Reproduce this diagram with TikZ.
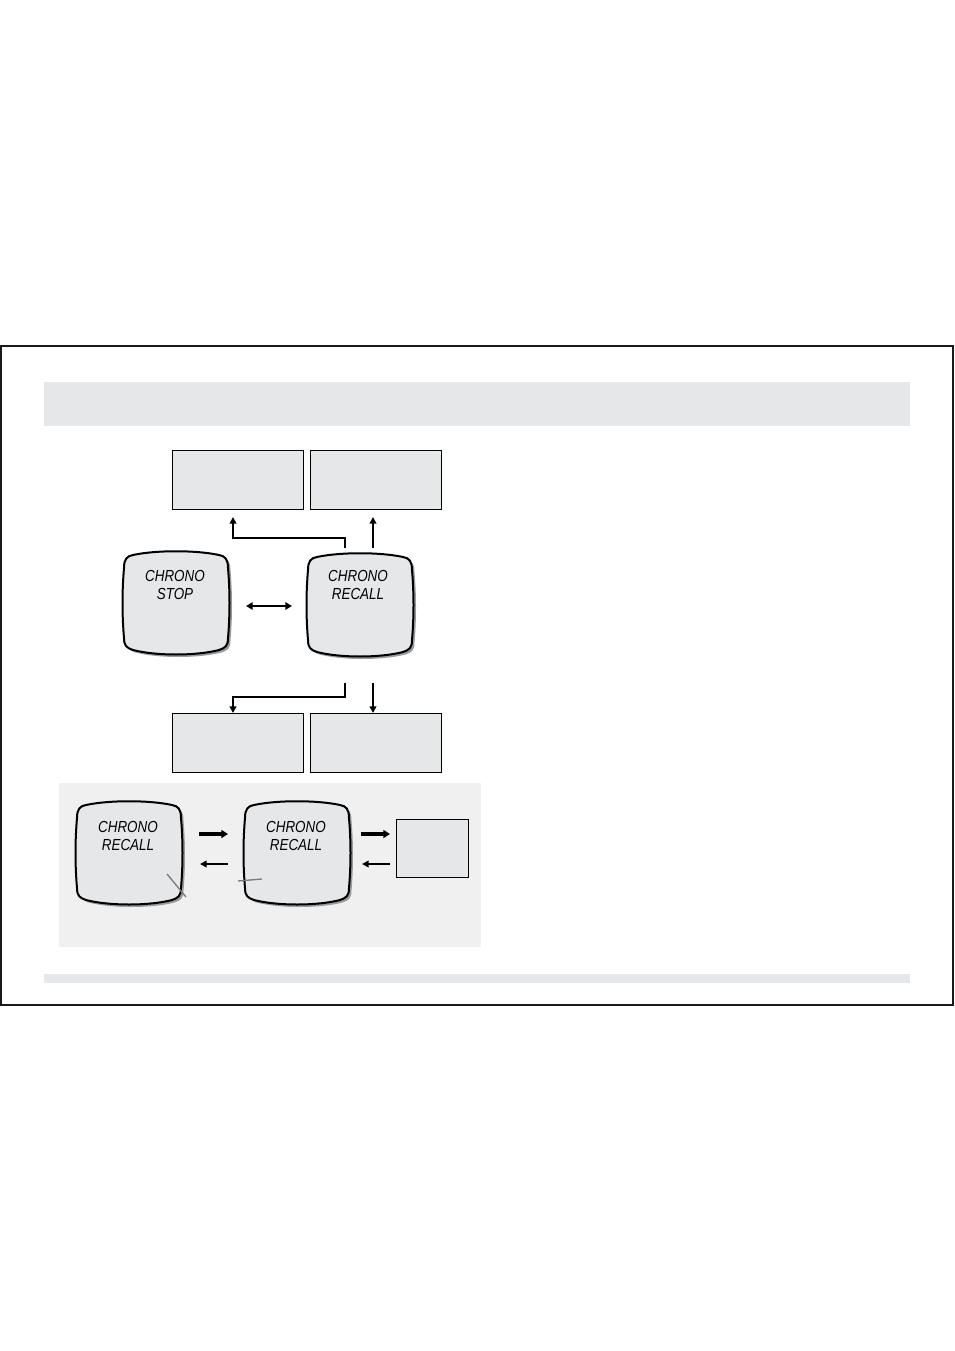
\documentclass[tikz,border=0pt]{standalone}
\usepackage{fontspec}
\newfontfamily\scrfont{Liberation Sans}[FakeStretch=0.84]
\usetikzlibrary{arrows.meta,calc}
\definecolor{boxgray}{HTML}{E6E7E8}
\definecolor{panelgray}{HTML}{F0F0F0}
\definecolor{shadowgray}{HTML}{9A9A9A}
\begin{document}
\begin{tikzpicture}[x=0.75pt,y=-0.75pt,
  dispbox/.style={draw=black,line width=0.7pt,fill=boxgray,minimum width=98.5pt,minimum height=44pt,inner sep=0pt},
  smallbox/.style={draw=black,line width=0.7pt,fill=boxgray,minimum width=54.5pt,minimum height=44pt,inner sep=0pt},
  scrnode/.style={minimum width=78pt,minimum height=75pt,inner sep=0pt},
  scrtext/.style={font=\scrfont\itshape\fontsize{12}{13.5}\selectfont,align=center,inner sep=0pt,text=black},
  conn/.style={line width=1.8pt,draw=black,-{Triangle[length=5pt,width=5pt]}},
  thickarr/.style={line width=2.4pt,draw=black,-{Triangle[length=5pt,width=6pt]}},
  thinarr/.style={line width=1.7pt,draw=black,-{Triangle[length=5pt,width=5pt]}},
  pointer/.style={draw=shadowgray!80!black,line width=1pt},
  screen/.pic={
    \fill[shadowgray] ($(-43,-48)+(2.5,2.5)$) .. controls ($(-20,-53)+(2.5,2.5)$) and ($(20,-53)+(2.5,2.5)$) .. ($(43,-48)+(2.5,2.5)$)
      .. controls ($(49,-47)+(2.5,2.5)$) and ($(52,-44)+(2.5,2.5)$) .. ($(52,-35)+(2.5,2.5)$)
      .. controls ($(54,-12)+(2.5,2.5)$) and ($(54,12)+(2.5,2.5)$) .. ($(52,35)+(2.5,2.5)$)
      .. controls ($(52,43)+(2.5,2.5)$) and ($(49,45)+(2.5,2.5)$) .. ($(43,47)+(2.5,2.5)$)
      .. controls ($(20,53)+(2.5,2.5)$) and ($(-20,53)+(2.5,2.5)$) .. ($(-43,47)+(2.5,2.5)$)
      .. controls ($(-49,45)+(2.5,2.5)$) and ($(-52,43)+(2.5,2.5)$) .. ($(-52,35)+(2.5,2.5)$)
      .. controls ($(-54,12)+(2.5,2.5)$) and ($(-54,-12)+(2.5,2.5)$) .. ($(-52,-35)+(2.5,2.5)$)
      .. controls ($(-52,-44)+(2.5,2.5)$) and ($(-49,-47)+(2.5,2.5)$) .. ($(-43,-48)+(2.5,2.5)$) -- cycle;
    \draw[fill=boxgray,line width=1.5pt] (-43,-48) .. controls (-20,-53) and (20,-53) .. (43,-48)
      .. controls (49,-47) and (52,-44) .. (52,-35)
      .. controls (54,-12) and (54,12) .. (52,35)
      .. controls (52,43) and (49,45) .. (43,47)
      .. controls (20,53) and (-20,53) .. (-43,47)
      .. controls (-49,45) and (-52,43) .. (-52,35)
      .. controls (-54,12) and (-54,-12) .. (-52,-35)
      .. controls (-52,-44) and (-49,-47) .. (-43,-48) -- cycle;
  }]
\useasboundingbox (0,0) rectangle (954,1351);
\fill[white] (0,0) rectangle (954,1351);
% page frame and bars
\draw[line width=0.9pt,black!90] (1,346) rectangle (953,1005);
\fill[boxgray] (44,382) rectangle (910,426);
\fill[boxgray] (44,974) rectangle (910,983);
\fill[panelgray] (59,783) rectangle (481,947);

% top boxes
\node[dispbox] (tl) at (238,480) {};
\node[dispbox] (tr) at (376,480) {};
% bottom boxes
\node[dispbox] (bl) at (238,743) {};
\node[dispbox] (br) at (376,743) {};

% main screens
\pic at (176,603) {screen};
\node[scrnode] (stop) at (176,603) {};
\node[scrtext] (stoptext) at (175,585) {CHRONO\\STOP};
\pic at (360,605) {screen};
\node[scrnode] (recall) at (360,605) {};
\node[scrtext] (recalltext) at (358,585) {CHRONO\\RECALL};

% connectors
\coordinate (ra) at (345,548);
\coordinate (rb) at (373,548);
\coordinate (rc) at (345,683);
\coordinate (rd) at (373,683);
\draw[conn] (ra) -- (345,538) -- (233,538) -- (233,517);
\draw[conn] (rb) -- (373,517);
\draw[conn] (rc) -- (345,697) -- (233,697) -- (233,713);
\draw[conn] (rd) -- (373,713);
\draw[line width=2pt,draw=black,{Triangle[length=5pt,width=5.5pt]}-{Triangle[length=5pt,width=5.5pt]}] (246,606) -- (292,606);

% panel
\pic at (129,853) {screen};
\node[scrnode] (p1) at (129,853) {};
\node[scrtext] (p1text) at (128,836) {CHRONO\\RECALL};
\pic at (297,853) {screen};
\node[scrnode] (p2) at (297,853) {};
\node[scrtext] (p2text) at (296,836) {CHRONO\\RECALL};
\node[smallbox] (sb) at (432.5,848.5) {};

\draw[thickarr] (199,834) -- (228,834);
\draw[thinarr] (228,864) -- (200,864);
\draw[thickarr] (361,834) -- (390,834);
\draw[thinarr] (390,864) -- (362,864);

\draw[pointer] (167,874) -- (186,897);
\draw[pointer] (238,881) -- (262,879);
\end{tikzpicture}
\end{document}
